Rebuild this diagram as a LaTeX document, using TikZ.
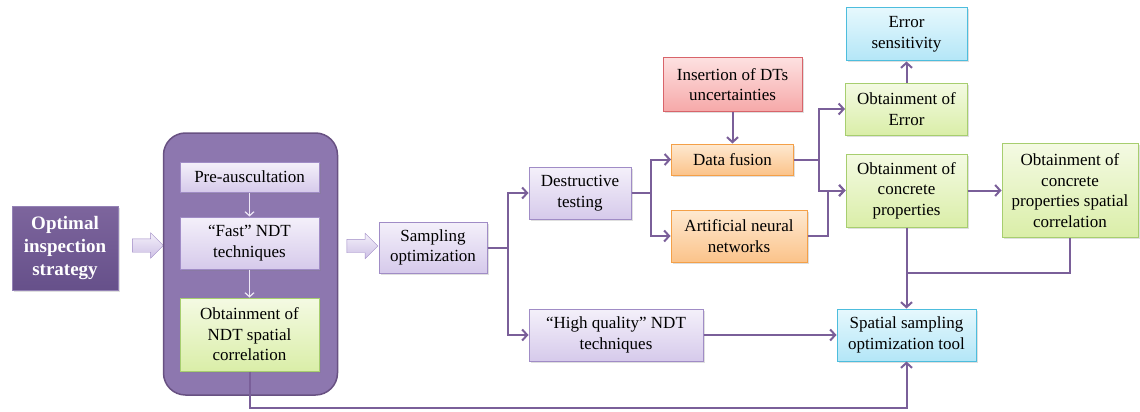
\documentclass[tikz,border=0pt]{standalone}
\usepackage{fontspec}
\setmainfont{Liberation Serif}
\usepackage{tikz}
\usetikzlibrary{arrows.meta, shapes.arrows, shadows}
\definecolor{lnk}{HTML}{7A5F99}
\definecolor{cont}{HTML}{8D77AF}
\definecolor{ptop}{HTML}{F4F0FA}\definecolor{pbot}{HTML}{D6CAEB}\definecolor{pdraw}{HTML}{A08CC6}
\definecolor{gtop}{HTML}{F4FAE3}\definecolor{gbot}{HTML}{DAEEA8}\definecolor{gdraw}{HTML}{A7CE6F}
\definecolor{otop}{HTML}{FEE9D1}\definecolor{obot}{HTML}{FBC38A}\definecolor{odraw}{HTML}{F4A048}
\definecolor{rtop}{HTML}{FDE0E0}\definecolor{rbot}{HTML}{F6A9A9}\definecolor{rdraw}{HTML}{D8646A}
\definecolor{btop}{HTML}{E6F8FD}\definecolor{bbot}{HTML}{B3E6F7}\definecolor{bdraw}{HTML}{4DBDDD}
\definecolor{dtop}{HTML}{7D659D}\definecolor{dbot}{HTML}{66508A}\definecolor{ddraw}{HTML}{9482B5}
\tikzstyle{box}=[rectangle,align=center,inner sep=0pt,line width=1pt,font=\fontsize{17}{20.5}\selectfont,drop shadow={opacity=.25,shadow xshift=1.5pt,shadow yshift=-1.5pt}]
\tikzstyle{pbox}=[box,draw=pdraw,top color=ptop,bottom color=pbot]
\tikzstyle{gbox}=[box,draw=gdraw,top color=gtop,bottom color=gbot]
\tikzstyle{obox}=[box,draw=odraw,top color=otop,bottom color=obot]
\tikzstyle{rbox}=[box,draw=rdraw,top color=rtop,bottom color=rbot]
\tikzstyle{bbox}=[box,draw=bdraw,top color=btop,bottom color=bbot]
\tikzstyle{lnk}=[draw=lnk,line width=2pt,-{Straight Barb[length=5pt,width=11pt]}]
\tikzstyle{inlnk}=[draw=ptop!80!pbot,line width=1.2pt,-{Straight Barb[length=4pt,width=9pt]}]
\tikzstyle{fat}=[single arrow,draw=pdraw,top color=ptop,bottom color=pbot!85!pdraw,inner xsep=0pt,inner ysep=6.5pt,minimum height=31pt,single arrow head extend=6pt]
\begin{document}
\begin{tikzpicture}[x=1pt,y=-1pt]
\useasboundingbox (0,0) rectangle (1140,412);
% left part
\node[box,draw=ddraw,top color=dtop,bottom color=dbot,text=white,font=\fontsize{19}{23}\selectfont\bfseries,minimum width=106pt,minimum height=84pt] (strat) at (65,248) {Optimal\\inspection\\strategy};
\node[fat] (fat1) at (144.5,245.5) {};
\node[rectangle,rounded corners=22pt,draw=lnk!85!black,fill=cont,line width=1.5pt,minimum width=174pt,minimum height=262pt] (cont) at (250.5,264) {};
\node[pbox,minimum width=139pt,minimum height=30pt] (pre) at (249.5,177) {Pre-auscultation};
\node[pbox,minimum width=139pt,minimum height=52pt] (fast) at (249.5,243) {“Fast” NDT\\techniques};
\node[gbox,minimum width=139pt,minimum height=73pt] (ndtc) at (249.5,334.5) {Obtainment of\\NDT spatial\\correlation};
\draw[inlnk] (pre) -- (fast);
\draw[inlnk] (fast) -- (ndtc);
\node[fat] (fat2) at (359,246) {};
% sampling
\node[pbox,minimum width=108pt,minimum height=51pt] (samp) at (433,247.5) {Sampling\\optimization};
\node[pbox,minimum width=102pt,minimum height=52pt] (dest) at (580,193) {Destructive\\testing};
\node[pbox,minimum width=174pt,minimum height=52pt] (hq) at (616,335) {“High quality” NDT\\techniques};
\node[rbox,minimum width=139pt,minimum height=53pt] (ins) at (732.5,84.5) {Insertion of DTs\\uncertainties};
\node[obox,minimum width=122pt,minimum height=31pt] (fus) at (732.5,159.5) {Data fusion};
\node[obox,minimum width=136pt,minimum height=52pt] (ann) at (739,236) {Artificial neural\\networks};
% results
\node[bbox,minimum width=121pt,minimum height=53pt] (esens) at (906.5,34.5) {Error\\sensitivity};
\node[gbox,minimum width=122pt,minimum height=52pt] (oerr) at (906.5,109) {Obtainment of\\Error};
\node[gbox,minimum width=121pt,minimum height=73pt] (oconc) at (906.5,190.5) {Obtainment of\\concrete\\properties};
\node[gbox,minimum width=136pt,minimum height=94pt] (corr) at (1070,190.5) {Obtainment of\\concrete\\properties spatial\\correlation};
\node[bbox,minimum width=139pt,minimum height=52pt] (tool) at (906.5,335) {Spatial sampling\\optimization tool};
\coordinate (join) at (906.5,273);
% connectors
\draw[lnk] (samp.east) -- ++(20,0) |- (dest);
\draw[lnk] (samp.east) -- ++(20,0) |- (hq);
\draw[lnk] (dest.east) -- ++(19,0) |- (fus);
\draw[lnk] (dest.east) -- ++(19,0) |- (ann);
\draw[lnk] (ins) -- (fus);
\draw[lnk] (fus.east) -- ++(25,0) |- (oerr);
\draw[lnk] (fus.east) -- ++(25,0) |- (oconc);
\draw[lnk] (ann.east) -- ++(20,0) |- (oconc);
\draw[lnk] (oerr) -- (esens);
\draw[lnk] (oconc) -- (corr);
\draw[lnk] (oconc) -- (tool);
\draw[lnk,-] (corr.south) |- (join);
\draw[lnk] (hq) -- (tool);
\draw[lnk] (ndtc.south) -- ++(0,36) -| (tool.south);
\end{tikzpicture}
\end{document}
